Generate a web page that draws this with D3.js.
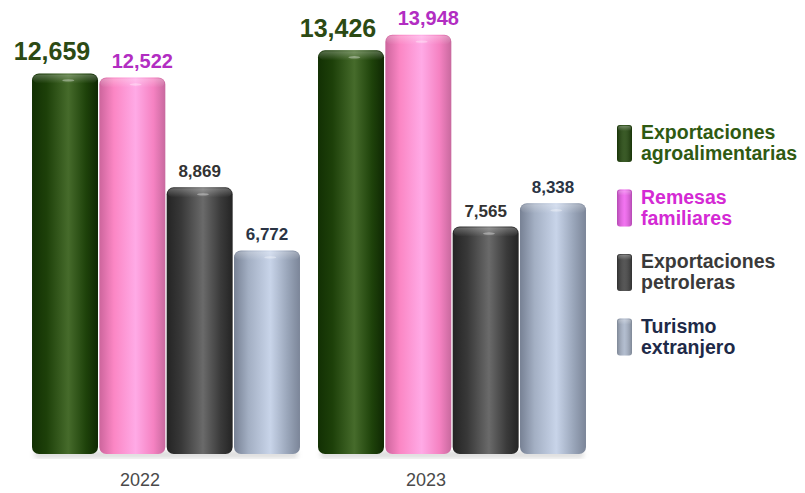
<!DOCTYPE html>
<html lang="es">
<head>
<meta charset="utf-8">
<title>Ingresos de divisas 2022-2023</title>
<script src="https://cdn.jsdelivr.net/npm/d3@7"></script>
<style>
  body { margin: 0; background: #fff; font-family: "Liberation Sans", Arial, sans-serif; }
  svg { display: block; }
  .year { font-size: 18px; fill: #4a4a4a; }
  .legend text { font-weight: 700; font-size: 19.5px; }
</style>
</head>
<body>
<div id="graphic"></div>
<script>
  // data (millones de dólares)
  var years = ["2022", "2023"];
  var seriesKeys = ["agro", "remesas", "petro", "turismo"];
  var seriesLabels = [
    ["Exportaciones", "agroalimentarias"],
    ["Remesas", "familiares"],
    ["Exportaciones", "petroleras"],
    ["Turismo", "extranjero"]
  ];
  var values2022 = [12659, 12522, 8869, 6772];
  var values2023 = [13426, 13948, 7565, 8338];

  // look of each series
  var styles = {
    agro:    { stops: ["#123003", "#1d4009", "#466b2b", "#1e420a", "#0f2803"], label: "#2c4a14", size: 25, dx: -13, legend: "#2f5a12", icon: "#1f4409" },
    remesas: { stops: ["#cc659c", "#fb86c4", "#ffaae6", "#f582c2", "#c8699e"], label: "#b22dc2", size: 20, dx: 10, legend: "#d42ad4", icon: "#f060ee" },
    petro:   { stops: ["#242424", "#383838", "#6a6a6a", "#3a3a3a", "#242424"], label: "#333333", size: 17, dx: 0, legend: "#3a3a3a", icon: "#404040" },
    turismo: { stops: ["#778194", "#a3afc3", "#c8d4e9", "#98a4b8", "#7b8598"], label: "#2a3444", size: 17, dx: 0, legend: "#1e2a48", icon: "#a8b4c8" }
  };
  var stopOffsets = [0, 0.22, 0.55, 0.82, 1];

  var width = 805, height = 493;
  var valuesByYear = { "2022": values2022, "2023": values2023 };

  var svg = d3.select("#graphic").append("svg")
    .attr("width", width).attr("height", height);

  var defs = svg.append("defs");
  seriesKeys.forEach(function(k) {
    var g = defs.append("linearGradient").attr("id", "grad-" + k)
      .attr("x1", "0%").attr("x2", "100%").attr("y1", "0%").attr("y2", "0%");
    styles[k].stops.forEach(function(c, i) {
      g.append("stop").attr("offset", stopOffsets[i]).attr("stop-color", c);
    });
  });
  var capGrad = defs.append("linearGradient").attr("id", "cap")
    .attr("x1", "0%").attr("x2", "0%").attr("y1", "0%").attr("y2", "100%");
  capGrad.append("stop").attr("offset", 0).attr("stop-color", "#fff").attr("stop-opacity", 0.28);
  capGrad.append("stop").attr("offset", 1).attr("stop-color", "#fff").attr("stop-opacity", 0);
  var iconGrad = defs.append("linearGradient").attr("id", "icon-shade")
    .attr("x1", "0%").attr("x2", "100%").attr("y1", "0%").attr("y2", "0%");
  iconGrad.append("stop").attr("offset", 0).attr("stop-color", "#000").attr("stop-opacity", 0.25);
  iconGrad.append("stop").attr("offset", 0.5).attr("stop-color", "#fff").attr("stop-opacity", 0.12);
  iconGrad.append("stop").attr("offset", 1).attr("stop-color", "#000").attr("stop-opacity", 0.25);
  defs.append("filter").attr("id", "blur").append("feGaussianBlur").attr("stdDeviation", 2.5);

  var x0 = d3.scaleBand().domain(years).range([23, 595]).paddingInner(0.063).paddingOuter(0.0315);
  var x1 = d3.scaleBand().domain(seriesKeys).range([0, x0.bandwidth()]).paddingInner(0.02);
  var y = d3.scaleLinear().domain([0, 15000]).range([454, 3]);

  var groups = svg.selectAll("g.year-group")
    .data(years).enter().append("g")
    .attr("class", "year-group")
    .attr("transform", function(d) { return "translate(" + x0(d) + ",0)"; });

  // soft floor shadow
  groups.append("rect")
    .attr("x", 2).attr("y", y(0) - 3)
    .attr("width", x0.bandwidth() - 4).attr("height", 7)
    .attr("rx", 4)
    .attr("fill", "#999").attr("opacity", 0.35)
    .attr("filter", "url(#blur)");

  var bars = groups.selectAll("g.bar")
    .data(function(yr) {
      return seriesKeys.map(function(k, i) { return { year: yr, key: k, value: valuesByYear[yr][i] }; });
    })
    .enter().append("g").attr("class", "bar");

  bars.append("rect")
    .attr("x", function(d) { return x1(d.key); })
    .attr("y", function(d) { return y(d.value); })
    .attr("width", x1.bandwidth())
    .attr("height", function(d) { return y(0) - y(d.value); })
    .attr("rx", 7).attr("ry", 7)
    .attr("fill", function(d) { return "url(#grad-" + d.key + ")"; });

  // top face of the cylinder
  bars.append("rect")
    .attr("x", function(d) { return x1(d.key) + 1; })
    .attr("y", function(d) { return y(d.value) + 1; })
    .attr("width", x1.bandwidth() - 2)
    .attr("height", 9)
    .attr("rx", 6)
    .attr("fill", "url(#cap)");

  bars.append("ellipse")
    .attr("cx", function(d) { return x1(d.key) + x1.bandwidth() * 0.55; })
    .attr("cy", function(d) { return y(d.value) + 7; })
    .attr("rx", 6).attr("ry", 1.2)
    .attr("fill", "#fff").attr("opacity", 0.35);

  // value labels
  bars.append("text")
    .attr("x", function(d) { return x1(d.key) + x1.bandwidth() / 2 + styles[d.key].dx; })
    .attr("y", function(d) { return y(d.value) - (d.key === "agro" ? 13 : 10); })
    .attr("text-anchor", "middle")
    .attr("font-weight", 700)
    .attr("font-size", function(d) { return styles[d.key].size + "px"; })
    .attr("fill", function(d) { return styles[d.key].label; })
    .text(function(d) { return d3.format(",")(d.value); });

  // year labels
  groups.append("text")
    .attr("class", "year")
    .attr("x", x0.bandwidth() / 2 - 26)
    .attr("y", 486)
    .attr("text-anchor", "middle")
    .text(function(d) { return d; });

  // legend
  var legend = svg.append("g").attr("class", "legend")
    .attr("transform", "translate(617,139)");

  var items = legend.selectAll("g.item")
    .data(seriesKeys).enter().append("g")
    .attr("class", "item")
    .attr("transform", function(d, i) { return "translate(0," + (i * 64.5) + ")"; });

  items.append("rect")
    .attr("x", 0).attr("y", -14)
    .attr("width", 15).attr("height", 37)
    .attr("rx", 3)
    .attr("fill", function(d) { return styles[d].icon; });

  items.append("rect")
    .attr("x", 0).attr("y", -14)
    .attr("width", 15).attr("height", 37)
    .attr("rx", 3)
    .attr("fill", "url(#icon-shade)");

  items.append("rect")
    .attr("x", 1).attr("y", -13)
    .attr("width", 13).attr("height", 5)
    .attr("rx", 2)
    .attr("fill", "url(#cap)");

  items.append("text")
    .attr("x", 24).attr("y", 0)
    .attr("fill", function(d) { return styles[d].legend; })
    .selectAll("tspan")
    .data(function(d, i) { return seriesLabels[i]; })
    .enter().append("tspan")
    .attr("x", 24)
    .attr("dy", function(d, i) { return i === 0 ? 0 : 21; })
    .text(function(d) { return d; });
</script>
</body>
</html>
